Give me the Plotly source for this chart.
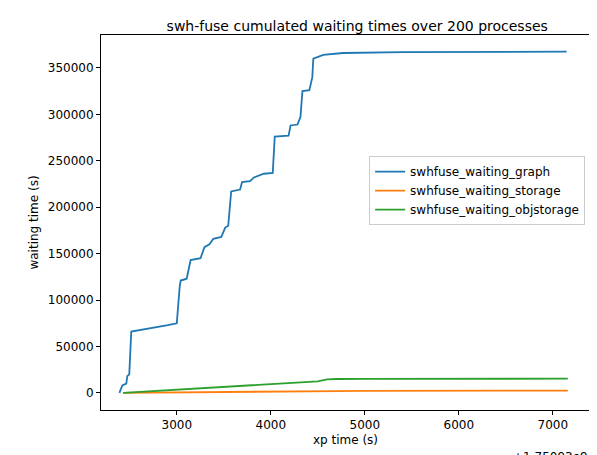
import plotly.graph_objects as go

px_g = [114,117,121,122,124,125,126,163,172,175,176,182,186,196,200,205,209,217,221,224,227,236,238,246,250,260,269,271,285,287,294,297,299,306,309,310,316,320,340,400,566]
graph_y = [0,8000,10000,18000,20000,50000,66000,73000,75000,115000,121000,123000,143000,145000,157000,160000,166000,168000,178000,180000,217000,219000,227000,228000,232000,236000,237000,276000,277000,288000,289000,297000,325000,326000,340000,360000,362000,364000,366000,367000,367500]
graph_x = [3000 + (p - 172) / 95 * 1000 for p in px_g]

storage_x = [2430, 3000, 3500, 4000, 4500, 4700, 5000, 6000, 7160]
storage_y = [0, 300, 700, 1100, 1500, 2000, 2300, 2400, 2400]

obj_x = [2430, 3000, 3500, 4000, 4400, 4500, 4600, 4700, 5000, 6000, 7160]
obj_y = [0, 3500, 6500, 9500, 11500, 12500, 14500, 15000, 15200, 15300, 15300]

fig = go.Figure()
fig.add_trace(go.Scatter(x=graph_x, y=graph_y, mode="lines", name="swhfuse_waiting_graph", line=dict(color="#1f77b4", width=1.8)))
fig.add_trace(go.Scatter(x=storage_x, y=storage_y, mode="lines", name="swhfuse_waiting_storage", line=dict(color="#ff7f0e", width=1.8)))
fig.add_trace(go.Scatter(x=obj_x, y=obj_y, mode="lines", name="swhfuse_waiting_objstorage", line=dict(color="#2ca02c", width=1.8)))

ax = dict(showgrid=False, zeroline=False, showline=True, mirror=True, linecolor="black", automargin=False,
          ticks="outside", tickcolor="black", ticklen=4, tickfont=dict(size=12, color="black"))
fig.update_layout(
    width=597, height=455, paper_bgcolor="white", plot_bgcolor="white",
    font=dict(family="DejaVu Sans", size=12, color="black"),
    margin=dict(l=93, r=15, t=27, b=53, autoexpand=False),
    title=dict(text="swh-fuse cumulated waiting times over 200 processes", x=0.585, xanchor="center",
               yref="container", y=0.96, yanchor="middle", font=dict(size=14), automargin=False),
    xaxis=dict(ax, range=[2194, 7396], tickvals=[3000,4000,5000,6000,7000], title=dict(text="xp time (s)", standoff=4, font=dict(size=12))),
    yaxis=dict(ax, range=[-18400, 385400], tickvals=[0,50000,100000,150000,200000,250000,300000,350000], tickformat="d", title=dict(text="waiting time (s)", standoff=6, font=dict(size=12))),
    legend=dict(x=0.99, y=0.585, xanchor="right", yanchor="middle", bgcolor="white", bordercolor="#cccccc", borderwidth=1, font=dict(size=12)),
    showlegend=True,
)
fig.add_annotation(text="+1.75093e9", xref="paper", yref="paper", x=1.0, y=-0.1, xanchor="right", yanchor="top", showarrow=False, font=dict(size=12))
fig.write_html("out.html")
